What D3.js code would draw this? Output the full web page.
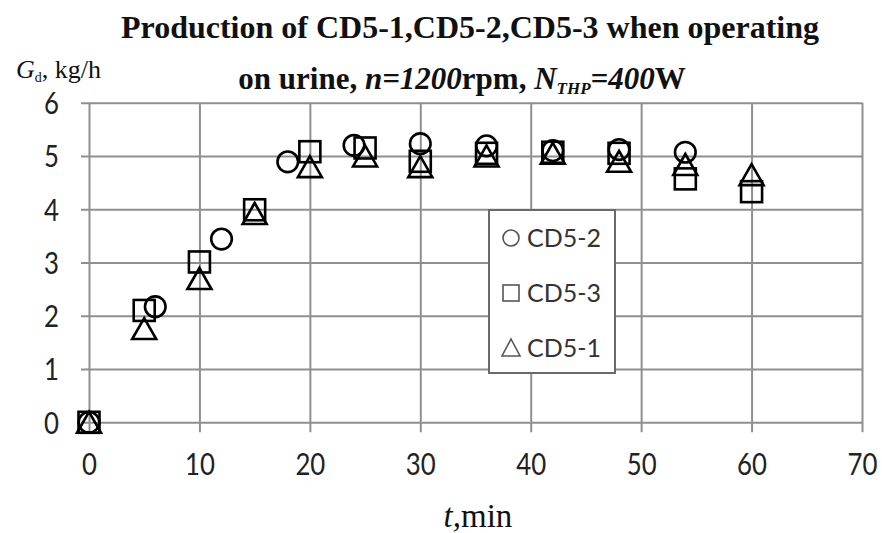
<!DOCTYPE html>
<html>
<head>
<meta charset="utf-8">
<script src="https://cdn.jsdelivr.net/npm/d3@7/dist/d3.min.js"></script>
<style>
  html, body { margin: 0; padding: 0; background: #fff; }
  svg { display: block; }
</style>
</head>
<body>
<svg id="chart" width="882" height="533"></svg>
<script>
// Production (kg/h) over time (min) for three units
const timeCD52 = [0, 6, 12, 18, 24, 30, 36, 42, 48, 54];
const prodCD52 = [0, 2.17, 3.44, 4.89, 5.2, 5.23, 5.19, 5.1, 5.12, 5.07];

const timeCD53 = [0, 5, 10, 15, 20, 25, 30, 36, 42, 48, 54, 60];
const prodCD53 = [0, 2.1, 3.01, 3.99, 5.08, 5.15, 4.9, 5.05, 5.07, 5.05, 4.57, 4.33];

const timeCD51 = [0, 5, 10, 15, 20, 25, 30, 36, 42, 48, 54, 60];
const prodCD51 = [0, 1.76, 2.7, 3.92, 4.8, 5.0, 4.8, 5.0, 5.05, 4.9, 4.84, 4.65];

const xTicks = [0, 10, 20, 30, 40, 50, 60, 70];
const yTicks = [0, 1, 2, 3, 4, 5, 6];
const legendNames = ["CD5-2", "CD5-3", "CD5-1"];

const svg = d3.select("#chart");
const plot = { left: 89, right: 862, top: 102.7, bottom: 422.3 };

const x = d3.scaleLinear().domain([0, 70]).range([plot.left, plot.right]);
const y = d3.scaleLinear().domain([0, 6]).range([plot.bottom, plot.top]);

const gridColor = "#8f8f8f";
const tickFont = "Lato, 'Open Sans', sans-serif";
const narrow = 0.86; // horizontal squeeze for the tall, narrow tick digits

// vertical grid + x axis labels
const gx = svg.append("g")
  .attr("transform", `translate(0,${plot.bottom})`)
  .call(d3.axisBottom(x).tickValues(xTicks).tickSize(0).tickPadding(0).tickFormat(d3.format("d")));
gx.select(".domain").remove();
gx.selectAll(".tick line")
  .attr("y1", 10).attr("y2", -(plot.bottom - plot.top))
  .attr("stroke", gridColor).attr("stroke-width", 2);
gx.selectAll(".tick text")
  .attr("y", 53).attr("dy", null)
  .attr("transform", `scale(${narrow},1)`)
  .attr("font-family", tickFont).attr("font-size", 30).attr("fill", "#222");

// horizontal grid + y axis labels
const gy = svg.append("g")
  .attr("transform", `translate(${plot.left},0)`)
  .call(d3.axisLeft(y).tickValues(yTicks).tickSize(0).tickPadding(0).tickFormat(d3.format("d")));
gy.select(".domain").remove();
gy.selectAll(".tick line")
  .attr("x1", -8).attr("x2", plot.right - plot.left)
  .attr("stroke", gridColor).attr("stroke-width", 2);
gy.selectAll(".tick text")
  .attr("x", -30 / narrow).attr("dy", "0.36em")
  .attr("transform", `scale(${narrow},1)`)
  .attr("font-family", tickFont).attr("font-size", 30).attr("fill", "#222");

// marker shapes
const markers = svg.append("g")
  .attr("fill", "none").attr("stroke", "#000").attr("stroke-width", 2.6);

markers.selectAll("circle.cd52")
  .data(d3.zip(timeCD52, prodCD52))
  .join("circle")
  .attr("class", "cd52")
  .attr("cx", d => x(d[0])).attr("cy", d => y(d[1])).attr("r", 10.3);

const sq = 21;
markers.selectAll("rect.cd53")
  .data(d3.zip(timeCD53, prodCD53))
  .join("rect")
  .attr("class", "cd53")
  .attr("x", d => x(d[0]) - sq / 2).attr("y", d => y(d[1]) - sq / 2)
  .attr("width", sq).attr("height", sq);

const triW = 24, triH = 21;
markers.selectAll("path.cd51")
  .data(d3.zip(timeCD51, prodCD51))
  .join("path")
  .attr("class", "cd51")
  .attr("d", d => {
    const cx = x(d[0]), cy = y(d[1]);
    return `M${cx},${cy - triH / 2}L${cx + triW / 2},${cy + triH / 2}L${cx - triW / 2},${cy + triH / 2}Z`;
  });

// legend
const lg = svg.append("g");
lg.append("rect")
  .attr("x", 489).attr("y", 210).attr("width", 126).attr("height", 163)
  .attr("fill", "#fff").attr("stroke", "#6a6a6a").attr("stroke-width", 2);
const legendY = [238, 293, 348];
const symCol = "#555";
lg.append("circle").attr("cx", 511).attr("cy", legendY[0]).attr("r", 8)
  .attr("fill", "none").attr("stroke", symCol).attr("stroke-width", 1.6);
lg.append("rect").attr("x", 503).attr("y", legendY[1] - 8).attr("width", 16).attr("height", 16)
  .attr("fill", "none").attr("stroke", symCol).attr("stroke-width", 1.6);
lg.append("path")
  .attr("d", `M511,${legendY[2] - 9}L520,${legendY[2] + 8}L502,${legendY[2] + 8}Z`)
  .attr("fill", "none").attr("stroke", symCol).attr("stroke-width", 1.6);
lg.selectAll("text")
  .data(legendNames)
  .join("text")
  .attr("x", 527).attr("y", (d, i) => legendY[i]).attr("dy", "0.36em")
  .attr("font-family", tickFont).attr("font-size", 25).attr("fill", "#333")
  .text(d => d);

// title
const serif = "'Liberation Serif', 'Times New Roman', serif";
svg.append("text")
  .attr("x", 470).attr("y", 38).attr("text-anchor", "middle")
  .attr("font-family", serif).attr("font-weight", "bold").attr("font-size", 32).attr("fill", "#111")
  .text("Production of CD5-1,CD5-2,CD5-3 when operating");

const t2 = svg.append("text")
  .attr("x", 462).attr("y", 89).attr("text-anchor", "middle")
  .attr("font-family", serif).attr("font-weight", "bold").attr("font-size", 31).attr("fill", "#111");
t2.append("tspan").text("on urine, ");
t2.append("tspan").attr("font-style", "italic").text("n=1200");
t2.append("tspan").text("rpm, ");
t2.append("tspan").attr("font-style", "italic").text("N");
t2.append("tspan").attr("font-style", "italic").attr("font-size", 17).attr("dy", 5).text("THP");
t2.append("tspan").attr("font-style", "italic").attr("dy", -5).text("=400");
t2.append("tspan").text("W");

// y axis title
const yt = svg.append("text")
  .attr("x", 16).attr("y", 78)
  .attr("font-family", serif).attr("font-size", 26).attr("fill", "#111");
yt.append("tspan").attr("font-style", "italic").text("G");
yt.append("tspan").attr("font-size", 14).attr("dy", 4).text("d");
yt.append("tspan").attr("dy", -4).text(", kg/h");

// x axis title
const xt = svg.append("text")
  .attr("x", 478).attr("y", 527).attr("text-anchor", "middle")
  .attr("font-family", serif).attr("font-size", 33).attr("fill", "#111");
xt.append("tspan").attr("font-style", "italic").text("t,");
xt.append("tspan").text("min");
</script>
</body>
</html>
